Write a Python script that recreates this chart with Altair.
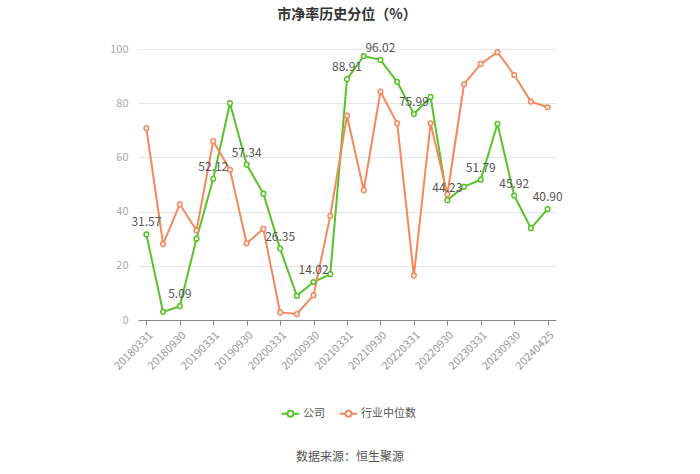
import altair as alt
import pandas as pd

dates = [
    "20180331", "20180630", "20180930", "20181231",
    "20190331", "20190630", "20190930", "20191231",
    "20200331", "20200630", "20200930", "20201231",
    "20210331", "20210630", "20210930", "20211231",
    "20220331", "20220630", "20220930", "20221231",
    "20230331", "20230630", "20230930", "20231231",
    "20240425",
]
company = [31.57, 3.0, 5.09, 30.0, 52.12, 80.0, 57.34, 46.6, 26.35, 8.9,
           14.02, 16.9, 88.91, 97.4, 96.02, 87.9, 75.99, 82.3, 44.23, 49.2,
           51.79, 72.4, 45.92, 33.9, 40.90]
industry = [70.8, 28.0, 42.7, 33.1, 66.0, 55.4, 28.3, 33.6, 2.8, 2.2,
            9.1, 38.4, 75.4, 47.9, 84.3, 72.6, 16.4, 72.6, 46.4, 87.0,
            94.5, 98.8, 90.4, 80.6, 78.5]
tick_labels = dates[::2]
series_names = ["公司", "行业中位数"]
colors = ["#5AC229", "#F5885C"]

rows = []
for i, d in enumerate(dates):
    rows.append({"date": d, "series": series_names[0], "value": company[i],
                 "label": f"{company[i]:.2f}" if i % 2 == 0 else ""})
    rows.append({"date": d, "series": series_names[1], "value": industry[i], "label": ""})
df = pd.DataFrame(rows)

FONT = "Noto Sans CJK SC"

x = alt.X("date:N", sort=dates, title=None,
          scale=alt.Scale(type="point", padding=0.5),
          axis=alt.Axis(values=tick_labels, labelAngle=-45, labelColor="#999999",
                        labelFontSize=11, labelFont=FONT, domainColor="#888888",
                        tickColor="#888888", tickSize=5, grid=False, labelPadding=4))
y = alt.Y("value:Q", title=None,
          scale=alt.Scale(domain=[0, 100]),
          axis=alt.Axis(values=[0, 20, 40, 60, 80, 100], labelColor="#AAAAAA",
                        labelFontSize=11, labelFont=FONT, domain=False, ticks=False,
                        gridColor="#E6E6E6", labelPadding=10))
color = alt.Color("series:N", sort=series_names,
                  scale=alt.Scale(domain=series_names, range=colors),
                  legend=alt.Legend(title=None, orient="none", legendX=146, legendY=358,
                                    direction="horizontal", labelFont=FONT,
                                    labelFontSize=11, labelColor="#555555",
                                    symbolType="M-1.6,0L-0.55,0M0.55,0L1.6,0M-0.55,0A0.55,0.55 0 1,1 0.55,0A0.55,0.55 0 1,1 -0.55,0Z",
                                    symbolSize=120, symbolStrokeWidth=2,
                                    symbolFillColor="white", columnPadding=10,
                                    labelOffset=6, symbolOffset=0))

base = alt.Chart(df)
lines = base.mark_line(strokeWidth=2).encode(x=x, y=y, color=color)
points = base.mark_point(size=22, filled=True, fill="white", strokeWidth=1.5, opacity=1).encode(
    x=x, y=y, stroke=alt.Stroke("series:N", scale=alt.Scale(domain=series_names, range=colors), legend=None))
labels = base.mark_text(dy=-12, fontSize=12, font=FONT, color="#555555").encode(
    x=x, y=y, text="label:N")
source = alt.Chart(pd.DataFrame({"t": ["数据来源：恒生聚源"]})).mark_text(
    font=FONT, fontSize=12, color="#555555").encode(
    x=alt.value(212), y=alt.value(408), text="t:N")

chart = alt.layer(lines, points, labels, source).properties(
    width=418, height=271,
    padding={"left": 138, "top": 49, "right": 144, "bottom": 154},
    autosize=alt.AutoSizeParams(type="none"),
    background="white",
    title=alt.TitleParams("市净率历史分位（%）", font=FONT, fontSize=14, fontWeight="bold",
                          color="#333333", anchor="middle", offset=12),
).configure_view(stroke=None)

chart.save("out.html", embed_options={"renderer": "svg", "actions": False})
